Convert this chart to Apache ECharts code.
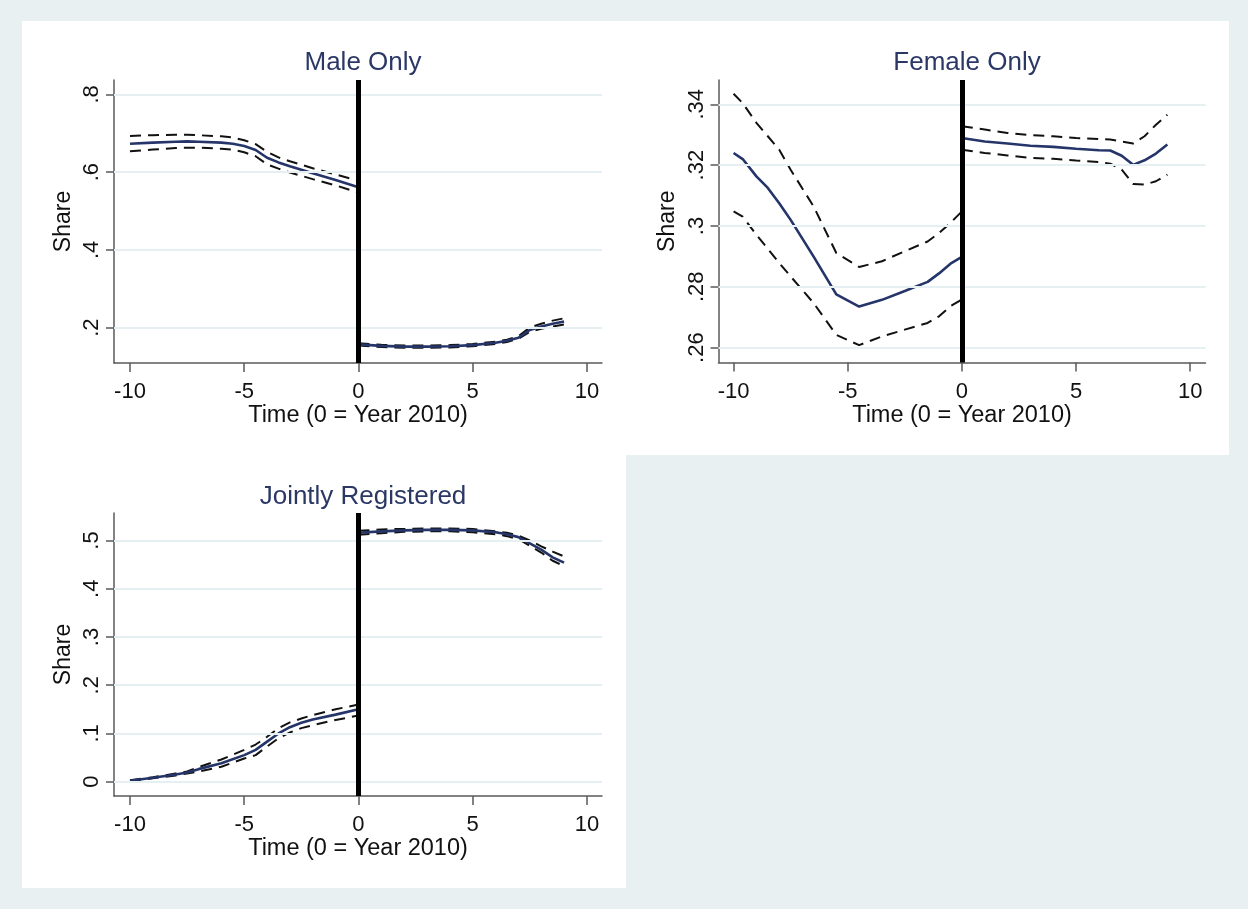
<!DOCTYPE html>
<html>
<head>
<meta charset="utf-8">
<script src="https://cdn.jsdelivr.net/npm/echarts@6/dist/echarts.min.js"></script>
<style>
html,body{margin:0;padding:0;background:#e8f0f2;}
#chart{width:1248px;height:909px;}
</style>
</head>
<body>
<div id="chart"></div>
<script>
// ---------- Data ----------
const titles = ["Male Only", "Female Only", "Jointly Registered"];
const xTicks = [-10, -5, 0, 5, 10];
const maleTicks = [0.2, 0.4, 0.6, 0.8];
const femaleTicks = [0.26, 0.28, 0.30, 0.32, 0.34];
const jointTicks = [0, 0.1, 0.2, 0.3, 0.4, 0.5];

// Male only
const maleXPre  = [-10, -9, -8, -7.5, -7, -6, -5.5, -5, -4.5, -4, -3.5, -3, -2, -1, 0];
const maleEstPre = [.673, .676, .678, .679, .678, .676, .673, .667, .657, .637, .625, .615, .597, .580, .561];
const maleUpPre  = [.693, .695, .696, .696, .695, .692, .689, .682, .672, .652, .638, .628, .610, .594, .578];
const maleLoPre  = [.654, .658, .662, .663, .663, .660, .658, .651, .641, .620, .609, .599, .582, .566, .547];
const maleXPost = [0, 1, 2, 3, 4, 5, 6, 6.5, 7, 7.5, 8, 8.5, 9];
const maleEstPost = [.157, .153, .151, .151, .152, .155, .161, .166, .174, .194, .203, .210, .216];
const maleUpPost  = [.160, .156, .154, .154, .155, .158, .164, .169, .178, .200, .210, .218, .224];
const maleLoPost  = [.154, .150, .148, .148, .149, .152, .158, .163, .171, .189, .197, .203, .208];

// Female only
const femXPre = [-10, -9.6, -9, -8.5, -8, -7.5, -6.5, -5.5, -4.5, -3.5, -2.5, -1.5, -1, -0.5, 0];
const femEstPre = [.324, .322, .3163, .3125, .3075, .302, .290, .2775, .2735, .2757, .2786, .2816, .2844, .2876, .2898];
const femUpPre  = [.3435, .3404, .3339, .3295, .3251, .3185, .3065, .2911, .2865, .2884, .2917, .2949, .2977, .301, .3048];
const femLoPre  = [.3048, .3031, .2971, .2925, .2878, .2834, .2747, .2642, .2608, .2637, .2659, .2681, .2703, .2736, .2758];
const femXPost = [0, 1, 2, 3, 4, 5, 6, 6.5, 7, 7.5, 8, 8.5, 9];
const femEstPost = [.3289, .3278, .3271, .3264, .326, .3254, .3249, .3248, .3231, .3201, .3216, .3238, .3268];
const femUpPost  = [.3328, .3317, .3306, .3299, .3295, .3289, .3286, .3284, .3278, .3271, .3295, .3333, .3366];
const femLoPost  = [.3251, .324, .3232, .3224, .3221, .3215, .321, .3205, .3185, .3138, .3136, .3147, .3169];

// Jointly registered
const jointXPre = [-10, -9, -8, -7.5, -7, -6, -5, -4.5, -4, -3.5, -3, -2.5, -2, -1, 0];
const jointEstPre = [.002, .008, .015, .019, .026, .038, .055, .066, .083, .100, .113, .122, .129, .139, .150];
const jointUpPre  = [.003, .009, .017, .021, .030, .046, .066, .077, .093, .111, .123, .131, .138, .150, .160];
const jointLoPre  = [.001, .007, .013, .017, .021, .031, .048, .055, .073, .090, .102, .111, .117, .128, .137];
const jointXPost = [0, 1, 2, 3, 4, 5, 6, 6.5, 7, 7.5, 8, 8.5, 9];
const jointEstPost = [.516, .519, .521, .522, .522, .521, .517, .513, .507, .494, .481, .465, .454];
const jointUpPost  = [.520, .523, .524, .525, .525, .524, .519, .516, .510, .500, .488, .477, .467];
const jointLoPost  = [.512, .515, .518, .519, .519, .517, .513, .509, .503, .489, .475, .458, .447];

// ---------- Build ----------
const FONT = '"Liberation Sans", Arial, sans-serif';
const NAVY = '#25356a';
const zip = (xs, ys) => xs.map((x, i) => [x, ys[i]]);
const fmt = v => {
  if (Math.abs(v) < 1e-9) return '0';
  let s = (+v.toFixed(4)).toString();
  return s.replace(/^0\./, '.').replace(/^-0\./, '-.');
};

const panels = [
  {grid:{left:114, top:80, width:488, height:283}, xr:[-10.7, 10.66], yr:[0.109, 0.837], ticks:maleTicks,
   pre:[maleXPre, maleEstPre, maleUpPre, maleLoPre], post:[maleXPost, maleEstPost, maleUpPost, maleLoPost], tx:358, ty:58},
  {grid:{left:718.5, top:80, width:487, height:282.5}, xr:[-10.66, 10.67], yr:[0.2551, 0.348], ticks:femaleTicks,
   pre:[femXPre, femEstPre, femUpPre, femLoPre], post:[femXPost, femEstPost, femUpPost, femLoPost], tx:962, ty:58},
  {grid:{left:114, top:513, width:488, height:283}, xr:[-10.7, 10.66], yr:[-0.0297, 0.557], ticks:jointTicks,
   pre:[jointXPre, jointEstPre, jointUpPre, jointLoPre], post:[jointXPost, jointEstPost, jointUpPost, jointLoPost], tx:358, ty:492}
];

const grid = [], xAxis = [], yAxis = [], series = [], titleArr = [];
panels.forEach((p, i) => {
  grid.push(Object.assign({containLabel:false}, p.grid));
  xAxis.push({
    type:'value', gridIndex:i, min:p.xr[0], max:p.xr[1],
    name:'Time (0 = Year 2010)', nameLocation:'middle', nameGap:41,
    nameTextStyle:{fontFamily:FONT, fontSize:23.5, color:'#111'},
    axisLine:{show:true, onZero:false, lineStyle:{color:'#5a5a5a', width:1.5}},
    axisTick:{show:true, length:9, customValues:xTicks, lineStyle:{color:'#5a5a5a', width:1.5}},
    axisLabel:{customValues:xTicks, fontFamily:FONT, fontSize:22, color:'#111', margin:18, formatter:fmt},
    splitLine:{show:false}
  });
  yAxis.push({
    type:'value', gridIndex:i, min:p.yr[0], max:p.yr[1],
    name:'Share', nameLocation:'middle', nameGap:39,
    nameTextStyle:{fontFamily:FONT, fontSize:23, color:'#111'},
    axisLine:{show:true, onZero:false, lineStyle:{color:'#5a5a5a', width:1.5}},
    axisTick:{show:true, length:8, customValues:p.ticks, lineStyle:{color:'#5a5a5a', width:1.5}},
    axisLabel:{customValues:p.ticks, rotate:90, fontFamily:FONT, fontSize:22, color:'#111', margin:11, formatter:fmt},
    splitLine:{show:false}
  });
  titleArr.push({text:titles[i], left:p.tx, top:p.ty, textAlign:'center', textVerticalAlign:'middle',
    textStyle:{fontFamily:FONT, fontSize:26, fontWeight:'normal', color:'#2b3866'}});
  // gridlines
  series.push({type:'line', xAxisIndex:i, yAxisIndex:i, data:[], z:1, silent:true,
    markLine:{silent:true, symbol:'none', label:{show:false},
      lineStyle:{color:'#e6eff2', width:2, type:'solid'},
      data:p.ticks.map(t => ({yAxis:t}))}});
  const seg = (arr) => {
    const [xs, est, up, lo] = arr;
    [up, lo].forEach(ci => series.push({type:'line', xAxisIndex:i, yAxisIndex:i, data:zip(xs, ci), showSymbol:false,
      z:2, silent:true, lineStyle:{color:'#111', width:2, type:[11,7]}}));
    series.push({type:'line', xAxisIndex:i, yAxisIndex:i, data:zip(xs, est), showSymbol:false,
      z:3, silent:true, lineStyle:{color:NAVY, width:2.6}});
  };
  seg(p.pre); seg(p.post);
  // vertical line at 0
  series.push({type:'line', xAxisIndex:i, yAxisIndex:i, data:[], z:6, silent:true,
    markLine:{silent:true, symbol:'none', label:{show:false},
      lineStyle:{color:'#000', width:5, type:'solid'}, data:[{xAxis:0}]}});
});

const chart = echarts.init(document.getElementById('chart'), null, {renderer:'canvas'});
chart.setOption({
  backgroundColor:'#e8f0f2',
  animation:false,
  graphic:[
    {type:'rect', shape:{x:22, y:21, width:1207, height:434}, style:{fill:'#ffffff'}, z:-10, silent:true},
    {type:'rect', shape:{x:22, y:455, width:604, height:433}, style:{fill:'#ffffff'}, z:-10, silent:true}
  ],
  title:titleArr,
  grid, xAxis, yAxis, series
});
</script>
</body>
</html>
